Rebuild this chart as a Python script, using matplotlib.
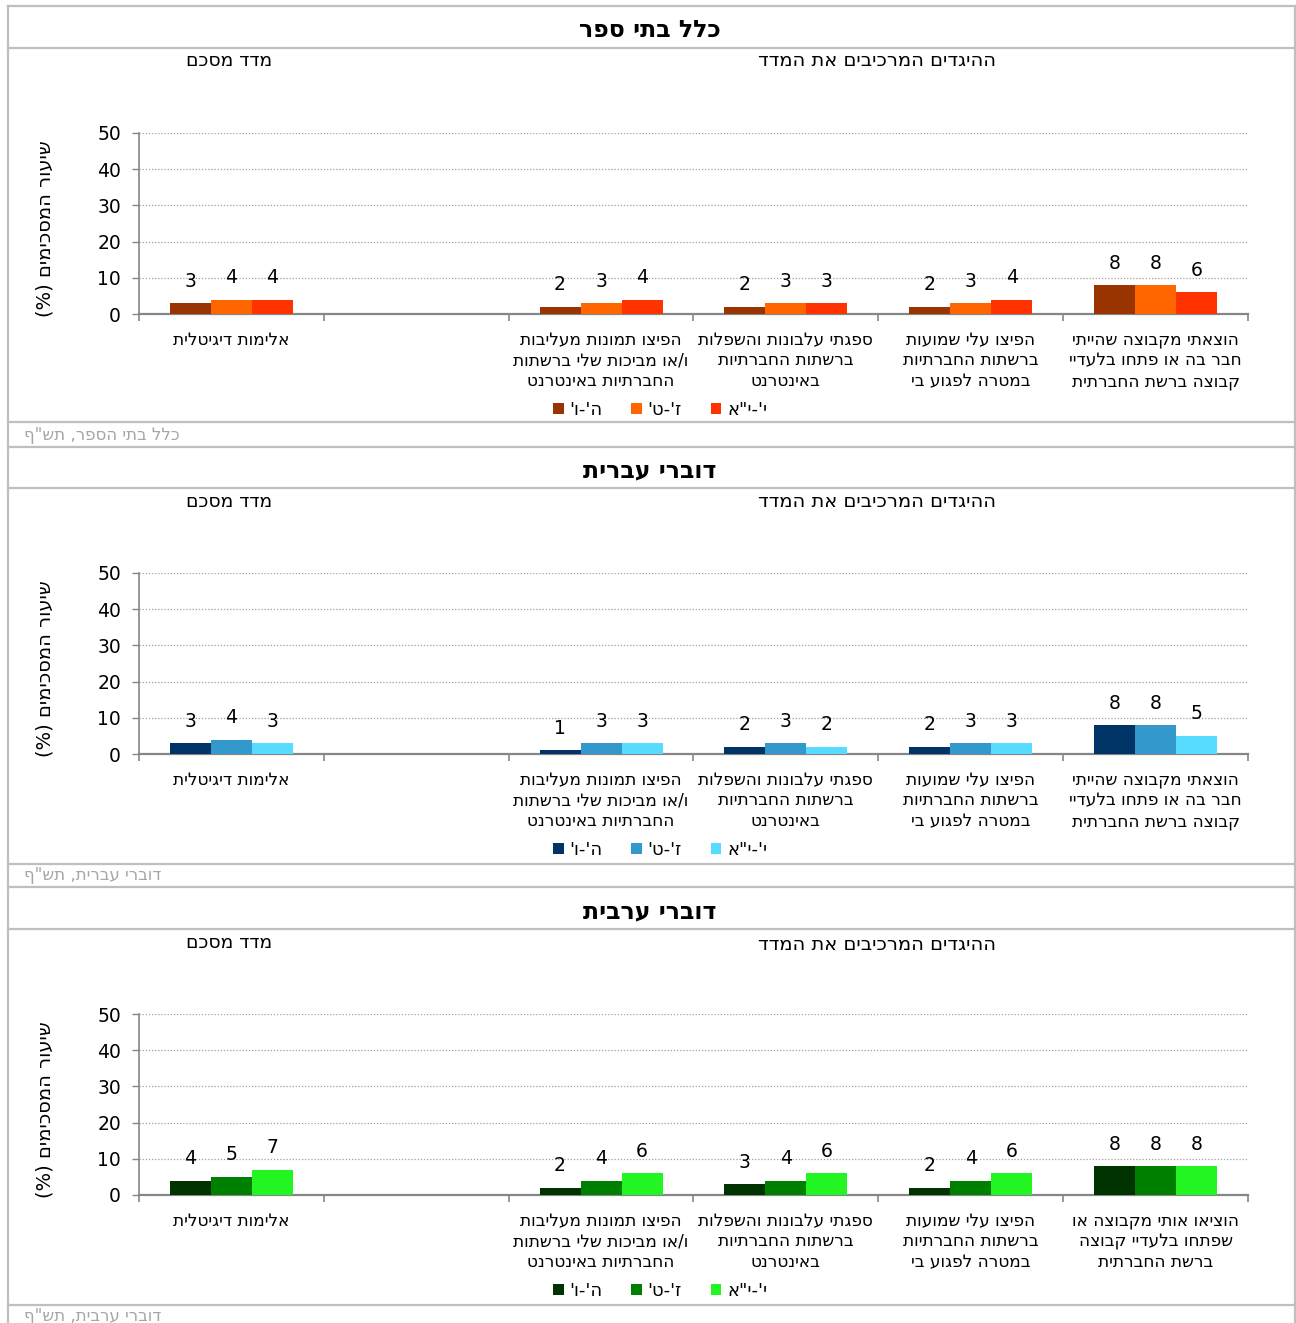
import numpy as np
import matplotlib.pyplot as plt
from matplotlib.lines import Line2D
from matplotlib.patches import Patch

plt.rcParams['font.family'] = ['DejaVu Sans']

W, H = 1296, 1323

# נתונים
titles = ["כלל בתי ספר", "דוברי עברית", "דוברי ערבית"]
footers = ["כלל בתי הספר, תש\"ף", "דוברי עברית, תש\"ף", "דוברי ערבית, תש\"ף"]
grades = ["ה'-ו'", "ז'-ט'", "י'-י\"א"]

cats_common = [
    "אלימות דיגיטלית",
    "",
    "הפיצו תמונות מעליבות\nו/או מביכות שלי ברשתות\nהחברתיות באינטרנט",
    "ספגתי עלבונות והשפלות\nברשתות החברתיות\nבאינטרנט",
    "הפיצו עלי שמועות\nברשתות החברתיות\nבמטרה לפגוע בי",
]
last_cat_heb = "הוצאתי מקבוצה שהייתי\nחבר בה או פתחו בלעדיי\nקבוצה ברשת החברתית"
last_cat_arab = "הוציאו אותי מקבוצה או\nשפתחו בלעדיי קבוצה\nברשת החברתית"
categories = [cats_common + [last_cat_heb],
              cats_common + [last_cat_heb],
              cats_common + [last_cat_arab]]

# ערכים לפי שכבת גיל (None = עמודה ריקה)
all_56 = [3, None, 2, 2, 2, 8]
all_79 = [4, None, 3, 3, 3, 8]
all_1011 = [4, None, 4, 3, 4, 6]
heb_56 = [3, None, 1, 2, 2, 8]
heb_79 = [4, None, 3, 3, 3, 8]
heb_1011 = [3, None, 3, 2, 3, 5]
arab_56 = [4, None, 2, 3, 2, 8]
arab_79 = [5, None, 4, 4, 4, 8]
arab_1011 = [7, None, 6, 6, 6, 8]
values = [[all_56, all_79, all_1011],
          [heb_56, heb_79, heb_1011],
          [arab_56, arab_79, arab_1011]]

palettes = [["#993300", "#FF6600", "#FF3300"],
            ["#003366", "#3399CC", "#57DCFF"],
            ["#003300", "#008000", "#22F522"]]

section_left = "מדד מסכם"
section_right = "ההיגדים המרכיבים את המדד"
ylabel = "שיעור המסכימים (%)"


def heb(s):
    # היפוך ויזואלי של טקסט מימין לשמאל, שורה אחרי שורה
    out = []
    for line in s.split("\n"):
        r = line[::-1]
        r = r.translate(str.maketrans("()", ")("))
        out.append(r)
    return "\n".join(out)


def fx(px):
    return px / W


def fy(py):
    return 1 - py / H


fig = plt.figure(figsize=(W / 100, H / 100), dpi=100)

border = "#BFBFBF"
# מסגרת חיצונית
for x in (8, 1295):
    fig.add_artist(Line2D([fx(x), fx(x)], [fy(6), fy(H)], color=border, lw=1.6))
for y in (6, 48, 422, 447, 488, 864, 887, 929, 1305):
    fig.add_artist(Line2D([fx(8), fx(1295)], [fy(y), fy(y)], color=border, lw=1.6))

offsets = [0, 440, 881]
x = np.arange(6)
bw = 0.222

for p in range(3):
    off = offsets[p]
    fig.text(fx(650), fy(30 + off), heb(titles[p]), ha="center", va="center",
             fontsize=17, fontweight="bold")
    fig.text(fx(24), fy(435 + off), heb(footers[p]), ha="left", va="center",
             fontsize=12, color="#A6A6A6")
    fig.text(fx(229), fy(61 + off), heb(section_left), ha="center", va="center", fontsize=13.5)
    fig.text(fx(877), fy(61 + off + (3 if p == 2 else 0)), heb(section_right),
             ha="center", va="center", fontsize=14)
    fig.text(fx(45), fy(229 + off), heb(ylabel), rotation=90, ha="center", va="center",
             fontsize=14)

    top, bot = 133 + off, 314 + off
    ax = fig.add_axes([fx(139), fy(bot), fx(1248) - fx(139), (bot - top) / H])
    for i in range(3):
        vals = values[p][i]
        xs = [xx + (i - 1) * bw for xx, v in zip(x, vals) if v is not None]
        vs = [v for v in vals if v is not None]
        bars = ax.bar(xs, vs, width=bw, color=palettes[p][i], edgecolor="none", zorder=3)
        for b, v in zip(bars, vs):
            ax.annotate(str(v), (b.get_x() + b.get_width() / 2, v),
                        xytext=(0, 9), textcoords="offset points",
                        ha="center", va="bottom", fontsize=13.5)

    ax.set_xlim(-0.5, 5.5)
    ax.set_ylim(0, 50)
    ax.set_yticks(range(0, 51, 10))
    ax.yaxis.grid(True, linestyle=(0, (1, 1.5)), color="#A0A0A0", lw=0.9, zorder=0)
    ax.set_xticks(x)
    ax.set_xticklabels([heb(c) for c in categories[p]], fontsize=12.2, linespacing=1.2,
                       va="top")
    ax.tick_params(axis="x", length=0, pad=12)
    ax.set_xticks(np.arange(-0.5, 6, 1), minor=True)
    ax.tick_params(axis="x", which="minor", length=5, width=1.2, color="#868686",
                   direction="out")
    ax.tick_params(axis="y", length=5, width=1, color="#868686", labelsize=13.5, pad=8)
    for s in ("top", "right"):
        ax.spines[s].set_visible(False)
    ax.spines["left"].set_color("#868686")
    ax.spines["left"].set_linewidth(1.2)
    ax.spines["bottom"].set_color("#868686")
    ax.spines["bottom"].set_linewidth(1.6)

    handles = [Patch(facecolor=c, edgecolor="none") for c in palettes[p]]
    fig.legend(handles, [heb(g) for g in grades], loc="center",
               bbox_to_anchor=(fx(660), fy(410 + off)), ncol=3, frameon=False,
               fontsize=13, handlelength=0.6, handleheight=0.6, handletextpad=0.3,
               columnspacing=1.6)

fig.savefig("out.png", dpi=100)
